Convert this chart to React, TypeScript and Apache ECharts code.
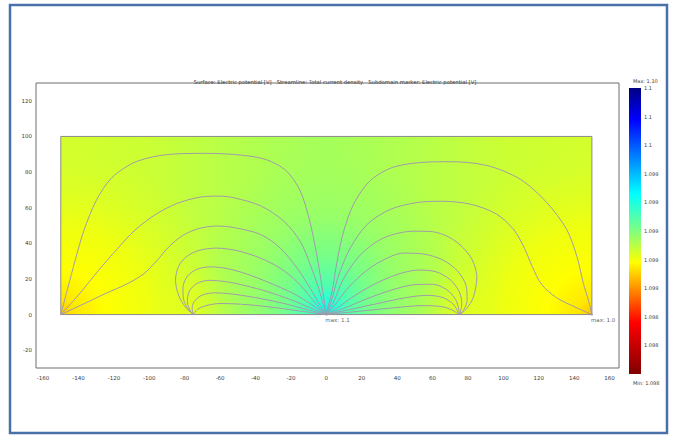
import React, { useEffect, useRef } from 'react';
import * as echarts from 'echarts';

const titleText =
  'Surface: Electric potential [V]   Streamline: Total current density   Subdomain marker: Electric potential [V]';

const xTickValues = [-160, -140, -120, -100, -80, -60, -40, -20, 0, 20, 40, 60, 80, 100, 120, 140, 160];
const yTickValues = [-20, 0, 20, 40, 60, 80, 100, 120];
const xRange = [-164, 165.3];
const yRange = [-30, 130];
const domainX = [-150, 150];
const domainY = [0, 100];

const potentialMax = 1.1;
const potentialMin = 1.098;
const colorbarMaxText = 'Max: 1.10';
const colorbarMinText = 'Min: 1.098';
const colorbarLabels = ['1.1', '1.1', '1.1', '1.099', '1.099', '1.099', '1.099', '1.099', '1.098', '1.098'];
const colorbarTickLevels = [2, 5, 8];
const colormapStops: [number, string][] = [
  [0, '#000080'],
  [0.11, '#0000ff'],
  [0.37, '#00ffff'],
  [0.5, '#80ff80'],
  [0.61, '#ffff00'],
  [0.82, '#ff0000'],
  [1, '#800000'],
];

// surface potential read along the top edge of the domain
const baseProfileX = [-150, -100, -60, -30, 0, 30, 60, 100, 150];
const baseProfileV = [1.098855, 1.09887, 1.098902, 1.098922, 1.098936, 1.098922, 1.098902, 1.09887, 1.098855];

// local extremes of the potential (source / sinks) with radial profiles
const hotspotX = [-75, 75, -150, 150, 0];
const hotspotY = [0, 0, 0, 0, 0];
const hotspotAspect = [1, 1, 1, 1, 0.75];
const hotspotRadii = [
  [0, 12, 30],
  [0, 12, 30],
  [0, 8, 25, 50, 95],
  [0, 8, 25, 50, 95],
  [0, 6, 16, 32, 55, 100],
];
const hotspotV = [
  [1.09883, 1.09885, 1.09887],
  [1.09883, 1.09885, 1.09887],
  [1.09868, 1.09874, 1.09878, 1.09881, 1.09885],
  [1.09868, 1.09874, 1.09878, 1.09881, 1.09885],
  [1.0993, 1.0992, 1.0991, 1.09902, 1.09896, 1.09893],
];

// streamlines of total current density
const streamL1 = [[-150, 0], [-146, 15], [-142, 30], [-137, 47], [-130, 64], [-121, 77], [-107, 86], [-88, 90], [-67, 90.5], [-48, 89.5], [-34, 87], [-23, 81], [-15, 70], [-9.5, 53], [-5.5, 34], [-2.5, 16], [-0.6, 4], [0, 0]];
const streamL2 = [[-150, 0], [-140, 11], [-128.5, 25], [-118, 37], [-108, 47.5], [-96, 56.5], [-84, 62.5], [-71, 66], [-60, 66.5], [-52, 65.5], [-37, 61], [-24, 52.4], [-14.7, 41], [-9, 27.8], [-4.3, 14.6], [-1.1, 3.4], [0, 0]];
const streamL3 = [[-150, 0], [-137, 6], [-125, 11.7], [-112, 17.5], [-103, 23], [-96, 30], [-89, 38], [-81, 44.5], [-72, 48.3], [-62, 49.7], [-52, 48.8], [-37, 44.9], [-26, 37.3], [-16.5, 26], [-9, 14.6], [-3.4, 5], [0, 0]];
const streamL4 = [[0, 0], [-3.4, 3.2], [-9, 9.9], [-16.5, 18.4], [-26, 26], [-37, 31.6], [-50, 35.8], [-62, 37.3], [-72, 36], [-79, 32.5], [-83.5, 27], [-85.2, 19.3], [-83.5, 11], [-79.5, 4], [-75, 0]];
const streamL5 = [[0, 0], [-7.3, 5], [-18.4, 11.7], [-33.5, 18.4], [-45, 22.8], [-56, 25.8], [-65, 26.8], [-73, 25.5], [-78.5, 21.5], [-81, 15], [-80.5, 8], [-78, 3], [-75, 0]];
const streamL6 = [[0, 0], [-9, 3.8], [-20, 8.3], [-33, 12.8], [-46, 16.3], [-57, 18.5], [-66, 19.2], [-73, 17.5], [-77.5, 13], [-78.5, 7], [-77, 2.5], [-75, 0]];
const streamL7 = [[0, 0], [-11, 2.8], [-25, 6.5], [-40, 9.5], [-53, 11.5], [-63, 12.2], [-70, 11], [-74.5, 7.5], [-75.8, 3.5], [-75, 0]];
const streamL8 = [[0, 0], [-15, 2], [-32, 4.3], [-48, 5.8], [-60, 6.2], [-68, 5], [-73, 2.8], [-75, 0]];
const streamR1 = [[0, 0], [0.8, 4], [3.2, 12.7], [6, 29.7], [9.8, 46.8], [15.4, 62], [24.8, 75.2], [38, 82.8], [56.8, 85.6], [70, 85.8], [90.7, 83.7], [109.5, 76], [124.5, 62.9], [135.8, 47.7], [141.5, 32.6], [145.2, 17.4], [148, 8], [150, 0]];
const streamR2 = [[0, 0], [1, 3], [3.2, 8.9], [7, 22.2], [13.5, 37.3], [23, 50.6], [36, 59], [51.2, 62.9], [65, 63.6], [81.3, 62], [96, 56.5], [106, 47.5], [112, 37], [116.5, 26.5], [121.5, 17], [130, 9.5], [141, 4], [150, 0]];
const streamR3 = [[0, 0], [1.5, 2.5], [4.1, 7], [9.8, 20.3], [19.2, 33.5], [32.3, 43], [49.3, 46.8], [60, 46.5], [71.8, 42], [81.3, 32.6], [85, 21.2], [83.1, 9.9], [79, 3], [75, 0]];
const streamR4 = [[0, 0], [5, 5.5], [11, 13.5], [20, 22.5], [30, 29.5], [43.6, 34.5], [55, 34], [66, 30.5], [74, 24.5], [79, 16], [79.5, 8], [77.5, 2.5], [75, 0]];
const streamR5 = [[0, 0], [6, 3.5], [15, 10], [27, 17], [40, 22.5], [52, 25], [62, 24], [70, 19.5], [75, 13], [76.5, 6], [75.8, 2], [75, 0]];
const streamR6 = [[0, 0], [10, 3.5], [22, 8.5], [36, 13.5], [50, 16.8], [60, 17], [68, 14], [73, 8.5], [74.8, 3], [75, 0]];
const streamR7 = [[0, 0], [12, 2.5], [28, 6], [45, 9.5], [57, 10.8], [66, 9.5], [72, 5.5], [75, 0]];
const streamR8 = [[0, 0], [18, 1.8], [38, 3.8], [54, 5], [65, 4.5], [71, 2.6], [75, 0]];

const streamlines = [
  streamL1, streamL2, streamL3, streamL4, streamL5, streamL6, streamL7, streamL8,
  streamR1, streamR2, streamR3, streamR4, streamR5, streamR6, streamR7, streamR8,
];

const markerX = [0, 150];
const markerY = [0, 0];
const markerLabels = ['max: 1.1', 'max: 1.099'];

function hexToRgb(h: string): number[] {
  const n = parseInt(h.slice(1), 16);
  return [(n >> 16) & 255, (n >> 8) & 255, n & 255];
}

function potentialColor(v: number, alpha = 1): string {
  let t = (potentialMax - v) / (potentialMax - potentialMin);
  t = Math.max(0, Math.min(1, t));
  for (let i = 1; i < colormapStops.length; i++) {
    const [t1, c1] = colormapStops[i];
    if (t <= t1 || i === colormapStops.length - 1) {
      const [t0, c0] = colormapStops[i - 1];
      const f = (t - t0) / (t1 - t0);
      const a = hexToRgb(c0);
      const b = hexToRgb(c1);
      const r = Math.round(a[0] + (b[0] - a[0]) * f);
      const g = Math.round(a[1] + (b[1] - a[1]) * f);
      const bl = Math.round(a[2] + (b[2] - a[2]) * f);
      return `rgba(${r},${g},${bl},${alpha})`;
    }
  }
  return '#000';
}

const FONT = 'DejaVu Sans';
const TEXT_COLOR = '#3c3c3c';

export default function App() {
  const ref = useRef<HTMLDivElement>(null);

  useEffect(() => {
    if (!ref.current) return;
    const chart = echarts.init(ref.current, null, { renderer: 'svg' });

    const surfaceSeries = {
      type: 'custom',
      xAxisIndex: 0,
      yAxisIndex: 0,
      silent: true,
      z: 1,
      data: [[domainX[0], domainY[0], domainX[1], domainY[1]]],
      encode: { x: [0, 2], y: [1, 3] },
      renderItem: (params: any, api: any) => {
        const tl = api.coord([domainX[0], domainY[1]]);
        const br = api.coord([domainX[1], domainY[0]]);
        const L = tl[0];
        const T = tl[1];
        const W = br[0] - tl[0];
        const H = br[1] - tl[1];
        const children: any[] = [];
        children.push({
          type: 'rect',
          shape: { x: L, y: T, width: W, height: H },
          style: {
            fill: new echarts.graphic.LinearGradient(
              L, 0, L + W, 0,
              baseProfileX.map((x, i) => ({
                offset: (x - domainX[0]) / (domainX[1] - domainX[0]),
                color: potentialColor(baseProfileV[i]),
              })),
              true
            ),
          },
        });
        hotspotX.forEach((hx, i) => {
          const c = api.coord([hx, hotspotY[i]]);
          const radii = hotspotRadii[i];
          const vals = hotspotV[i];
          const rMax = radii[radii.length - 1];
          const rPx = api.size([0, rMax])[1];
          const sx = hotspotAspect[i];
          const stops = radii.map((r, k) => ({
            offset: r / rMax,
            color: potentialColor(vals[k], k === radii.length - 1 ? 0 : 1),
          }));
          children.push({
            type: 'rect',
            x: c[0],
            y: c[1],
            scaleX: sx,
            shape: { x: (L - c[0]) / sx, y: T - c[1], width: W / sx, height: H },
            style: { fill: new echarts.graphic.RadialGradient(0, 0, rPx, stops, true) },
          });
        });
        children.push({
          type: 'rect',
          shape: { x: L, y: T, width: W, height: H },
          style: { fill: 'none', stroke: '#8c8c8c', lineWidth: 1 },
        });
        return { type: 'group', children };
      },
    };

    const lineSeries = streamlines.map((pts) => ({
      type: 'line',
      xAxisIndex: 0,
      yAxisIndex: 0,
      data: pts,
      showSymbol: false,
      smooth: 0.3,
      silent: true,
      z: 2,
      lineStyle: { color: '#a29bab', width: 1 },
    }));

    const markerSeries = {
      type: 'scatter',
      xAxisIndex: 0,
      yAxisIndex: 0,
      silent: true,
      z: 3,
      symbolSize: 2,
      itemStyle: { color: '#9a9aa0' },
      data: markerX.map((x, i) => ({
        value: [x, markerY[i]],
        name: markerLabels[i],
        label: i === 1 ? { width: 26, overflow: 'truncate', ellipsis: '' } : undefined,
      })),
      label: {
        show: true,
        formatter: '{b}',
        position: [0, 3],
        align: 'left',
        verticalAlign: 'top',
        fontSize: 5.5,
        color: '#333',
        fontFamily: FONT,
      },
    };

    const colorbarSeries = {
      type: 'bar',
      xAxisIndex: 1,
      yAxisIndex: 1,
      silent: true,
      data: [10],
      barWidth: '100%',
      itemStyle: {
        color: new echarts.graphic.LinearGradient(
          0, 0, 0, 1,
          colormapStops.map(([o, c]) => ({ offset: o, color: c }))
        ),
      },
    };

    const option: any = {
      animation: false,
      backgroundColor: '#ffffff',
      textStyle: { fontFamily: FONT },
      title: {
        text: titleText,
        left: 330,
        top: 74,
        textAlign: 'center',
        textStyle: { fontSize: 5.3, fontWeight: 'normal', color: TEXT_COLOR, fontFamily: FONT },
      },
      grid: [
        { left: 36, right: 57, top: 83, bottom: 69, show: true, borderColor: '#6e6e6e', borderWidth: 1, backgroundColor: 'transparent' },
        { left: 629, width: 12, top: 88, height: 286 },
      ],
      xAxis: [
        {
          gridIndex: 0,
          type: 'value',
          min: xRange[0],
          max: xRange[1],
          axisLine: { show: false },
          axisTick: { show: false },
          splitLine: { show: false },
          axisLabel: { customValues: xTickValues, fontSize: 5.5, color: TEXT_COLOR, margin: 7, fontFamily: FONT },
        },
        { gridIndex: 1, type: 'category', data: ['colorbar'], show: false },
      ],
      yAxis: [
        {
          gridIndex: 0,
          type: 'value',
          min: yRange[0],
          max: yRange[1],
          axisLine: { show: false },
          axisTick: { show: false },
          splitLine: { show: false },
          axisLabel: { customValues: yTickValues, fontSize: 5.5, color: TEXT_COLOR, margin: 4, fontFamily: FONT },
        },
        {
          gridIndex: 1,
          type: 'value',
          min: 0,
          max: 10,
          interval: 1,
          position: 'right',
          axisLine: { show: false },
          axisTick: { show: false },
          splitLine: { show: false },
          axisLabel: {
            fontSize: 5,
            color: TEXT_COLOR,
            margin: 3,
            fontFamily: FONT,
            formatter: (v: number) => (v >= 1 ? colorbarLabels[10 - Math.round(v)] : ''),
          },
        },
        {
          gridIndex: 1,
          type: 'value',
          min: 0,
          max: 10,
          position: 'left',
          axisLine: { show: false },
          splitLine: { show: false },
          axisLabel: { show: false },
          axisTick: { show: true, inside: true, length: 4, customValues: colorbarTickLevels, lineStyle: { color: '#111', width: 1 } },
        },
      ],
      graphic: [
        {
          type: 'rect',
          z: 100,
          shape: { x: 10, y: 5, width: 657, height: 428 },
          style: { fill: 'none', stroke: '#4a70a9', lineWidth: 2.5 },
        },
        {
          type: 'text',
          x: 633,
          y: 81,
          style: { text: colorbarMaxText, fontSize: 5, fontFamily: FONT, fill: TEXT_COLOR, verticalAlign: 'middle' },
        },
        {
          type: 'text',
          x: 633,
          y: 383,
          style: { text: colorbarMinText, fontSize: 5, fontFamily: FONT, fill: TEXT_COLOR, verticalAlign: 'middle' },
        },
      ],
      series: [surfaceSeries, ...lineSeries, markerSeries, colorbarSeries],
    };

    chart.setOption(option);
    return () => chart.dispose();
  }, []);

  return <div ref={ref} style={{ position: 'absolute', left: 0, top: 0, width: 676, height: 437 }} />;
}
